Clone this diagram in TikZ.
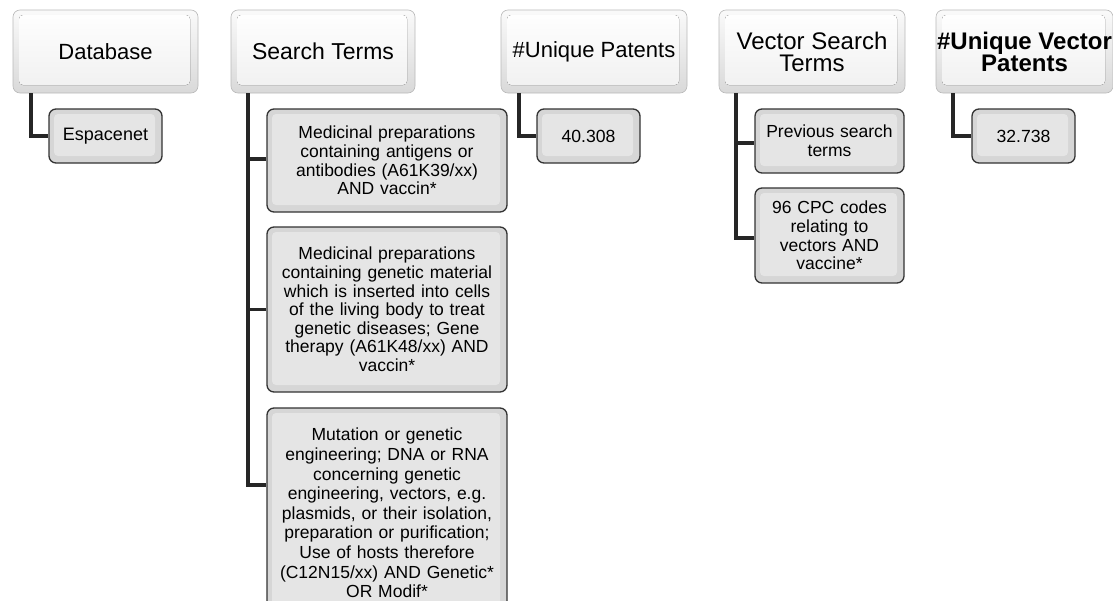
\documentclass[tikz,border=0pt]{standalone}
\usepackage{fontspec}
\setmainfont{Liberation Sans}
\begin{document}
\begin{tikzpicture}[x=1pt,y=-1pt,
  headbox/.style={draw=gray!55, line width=0.6pt, rounded corners=7pt,
    top color=gray!4, bottom color=gray!30, minimum height=83pt,
    inner sep=0pt, align=center, font=\fontsize{22}{22}\selectfont,
    path picture={\fill[rounded corners=4pt, top color=white, bottom color=gray!12]
      ([shift={(6pt,-5pt)}]path picture bounding box.north west) rectangle
      ([shift={(-8pt,8pt)}]path picture bounding box.south east);}},
  childbox/.style={draw=black!80, line width=1.3pt, rounded corners=7pt,
    fill=gray!32, inner sep=0pt, align=center,
    font=\fontsize{17.5}{18.6}\selectfont,
    path picture={\fill[rounded corners=4pt, gray!20]
      ([shift={(5pt,-5pt)}]path picture bounding box.north west) rectangle
      ([shift={(-7pt,7pt)}]path picture bounding box.south east);}},
  link/.style={draw=black!85, line width=3.2pt}]
\useasboundingbox (0,0) rectangle (1113,600);
\fill[white] (0,0) rectangle (1113,600);

% headers
\node[headbox, minimum width=185pt] (db) at (105.5,51.5) {Database};
\node[headbox, minimum width=184pt, font=\fontsize{23}{22}\selectfont] (st) at (323,51.5) {Search Terms};
\node[headbox, minimum width=186pt] (up) at (594,51.5) {\#Unique Patents};
\node[headbox, minimum width=186pt, font=\fontsize{24}{22}\selectfont] (vs) at (812,51.5) {Vector Search\\Terms};
\node[headbox, minimum width=177pt, font=\fontsize{24}{22}\selectfont\bfseries] (uv) at (1024.5,51.5) {\#Unique Vector\\Patents};

% children
\node[childbox, minimum width=113pt, minimum height=54pt, font=\fontsize{18}{19}\selectfont] (esp) at (105.5,136) {Espacenet};
\node[childbox, minimum width=240pt, minimum height=103pt, text width=236pt] (st1) at (387,160.5)
  {Medicinal preparations\\containing antigens or\\antibodies (A61K39/xx)\\AND vaccin*};
\node[childbox, minimum width=240pt, minimum height=165pt, text width=236pt] (st2) at (387,309.5)
  {Medicinal preparations\\containing genetic material\\which is inserted into cells\\of the living body to treat\\genetic diseases; Gene\\therapy (A61K48/xx) AND\\vaccin*};
\node[childbox, minimum width=240pt, minimum height=210pt, text width=236pt, font=\fontsize{17.5}{19.6}\selectfont] (st3) at (387,513)
  {Mutation or genetic\\engineering; DNA or RNA\\concerning genetic\\engineering, vectors, e.g.\\plasmids, or their isolation,\\preparation or purification;\\Use of hosts therefore\\(C12N15/xx) AND Genetic*\\OR Modif*};
\node[childbox, minimum width=103pt, minimum height=54pt, font=\fontsize{17.6}{19}\selectfont] (p1) at (588.5,136) {40.308};
\node[childbox, minimum width=149pt, minimum height=64pt, text width=145pt] (v1) at (829.5,141)
  {Previous search\\terms};
\node[childbox, minimum width=149pt, minimum height=95pt, text width=145pt] (v2) at (829.5,235.5)
  {96 CPC codes\\relating to\\vectors AND\\vaccine*};
\node[childbox, minimum width=103pt, minimum height=54pt, font=\fontsize{17.6}{19}\selectfont] (p2) at (1023.5,136) {32.738};

% connectors
\draw[link] (db.south -| 31,0) |- (esp.west);
\draw[link] (st.south -| 248,0) |- ([yshift=1.5pt]st1.west);
\draw[link] (st.south -| 248,0) |- (st2.west);
\draw[link] (st.south -| 248,0) |- ([yshift=28pt]st3.west);
\draw[link] (up.south -| 519,0) |- (p1.west);
\draw[link] (vs.south -| 736,0) |- ([yshift=-2pt]v1.west);
\draw[link] (vs.south -| 736,0) |- ([yshift=-2.5pt]v2.west);
\draw[link] (uv.south -| 953,0) |- (p2.west);
\end{tikzpicture}
\end{document}
